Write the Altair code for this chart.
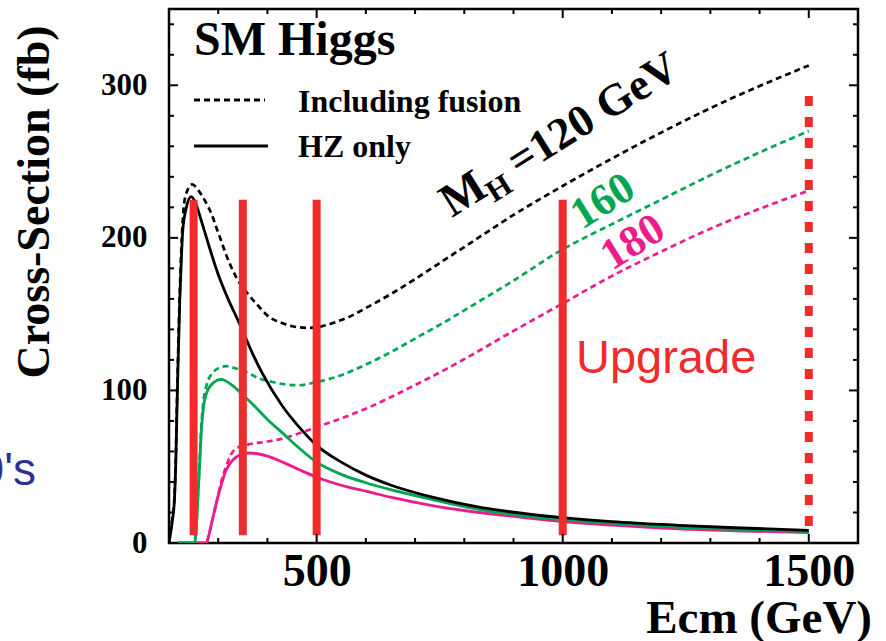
import altair as alt
import pandas as pd

# ---------------- data ----------------
# MH = 120 GeV, HZ only (solid black)
e120_hz = [200, 203, 207, 211, 214, 216, 218, 222, 225, 228, 234, 245, 255, 265, 280, 300, 320, 340, 353, 370,
           390, 430, 470, 500, 550, 600, 650, 735, 830, 870, 1000, 1100, 1236, 1350, 1500]
s120_hz = [0, 6, 15, 28, 55, 85, 112, 160, 185, 205, 218, 227, 222, 212, 196, 176, 160, 146, 136.5, 124,
           111, 90, 74, 64, 53, 44.5, 38, 30, 23.5, 21.5, 16.6, 14, 11.6, 10, 8.3]
# MH = 120 GeV, including fusion (dotted black)
e120_all = [200, 203, 207, 211, 214, 216, 218, 222, 225, 228, 234, 247, 260, 276, 286, 296, 306, 316, 337, 357,
            377, 404, 431, 460, 485, 510, 540, 566, 600, 650, 700, 769, 800, 900, 1000, 1100, 1200, 1300,
            1400, 1500]
s120_all = [0, 7, 17, 30, 58, 90, 118, 165, 192, 212, 228, 235, 231, 222.6, 216, 207, 198, 189, 174, 164.6,
            157, 148, 144, 141.5, 141, 142, 145, 148.2, 154, 163, 173, 187.5, 194, 215, 234, 252, 269, 285,
            299.5, 313]
# MH = 160 GeV
e160_hz = [220, 252, 255, 258, 262, 266, 270, 276, 290, 306, 330, 350, 370, 400, 431, 460, 500, 550, 600, 650,
           735, 830, 870, 1000, 1100, 1236, 1350, 1500]
s160_hz = [0, 0, 8, 25, 50, 75, 89, 98, 105, 107.3, 103, 97, 91, 81, 72, 63.5, 53, 45, 39.5, 35,
           28.5, 22, 20, 15.3, 13, 10.3, 9, 7.5]
e160_all = [220, 252, 255, 258, 262, 266, 270, 276, 290, 303, 316, 335, 350, 384, 410, 438, 465, 492, 520, 550,
            600, 650, 700, 769, 800, 900, 992, 1100, 1200, 1300, 1400, 1500]
s160_all = [0, 0, 8, 26, 52, 78, 93, 103, 112, 115, 115.9, 114.5, 113, 107.8, 105.5, 103.9, 103.4, 104.9, 107, 110,
            117, 125, 134, 146.5, 152.5, 172, 191, 209, 225, 241, 256, 270]
# MH = 180 GeV
e180_hz = [218, 276, 280, 288, 296, 306, 316, 326, 337, 350, 364, 380, 400, 431, 465, 499, 566, 600, 650, 735,
           830, 870, 1000, 1100, 1200, 1350, 1500]
s180_hz = [0, 0, 4, 15, 26, 38, 47.7, 53, 56.4, 58.5, 59, 58.5, 57, 53, 48, 43.3, 36.5, 34, 30, 24.5,
           20, 18.5, 14, 11.7, 9.8, 8, 6.8]
e180_all = [218, 276, 280, 288, 296, 306, 316, 326, 337, 360, 400, 431, 470, 500, 540, 600, 650, 700, 769,
            800, 900, 1000, 1100, 1200, 1300, 1400, 1500]
s180_all = [0, 0, 4, 15, 26, 40, 50, 58, 62, 64.5, 66.5, 68.5, 72.5, 76, 80.5, 88, 95.5, 103.5, 115,
            120.5, 139, 157, 175, 191, 206, 219, 231]

# red energy markers
bar_ecm = [250, 350, 500, 1000]
bar_lo = [5, 5, 5, 5]
bar_hi = [225, 225, 225, 225]
upgrade_ecm = [1500]
upgrade_lo = [8]
upgrade_hi = [293]

# axes
x_major = [500, 1000, 1500]
x_minor = [200, 300, 400, 600, 700, 800, 900, 1100, 1200, 1300, 1400, 1600]
y_major = [0, 100, 200, 300]
y_minor = [20, 40, 60, 80, 120, 140, 160, 180, 220, 240, 260, 280, 320, 340]

# ---------------- chart ----------------
W, H = 689, 534
SERIF = "Liberation Serif"
SANS = "Liberation Sans"
BLACK = "#000000"
GREEN = "#00a651"
PINK = "#ec1c8c"
RED = "#ee2c2c"
BLUE = "#2e3192"

xs = alt.Scale(domain=[200, 1600], nice=False, zero=False)
ys = alt.Scale(domain=[0, 350], nice=False, zero=False)
X = alt.X("ecm:Q", scale=xs,
          axis=alt.Axis(values=x_major, format="d", labelFont=SERIF, labelFontWeight="bold", labelFontSize=46,
                        labelColor="black", labelPadding=6, ticks=False, tickSize=0, domain=False,
                        grid=False, title=None, labelFlush=False))
Y = alt.Y("xs:Q", scale=ys,
          axis=alt.Axis(values=y_major, format="d", labelFont=SERIF, labelFontWeight="bold", labelFontSize=31,
                        labelColor="black", labelPadding=22, ticks=False, tickSize=0, domain=False,
                        grid=False, title=None))


def curve(e, s, color, dashed):
    df = pd.DataFrame({"ecm": e, "xs": s})
    kw = dict(color=color, strokeWidth=2.8, interpolate="monotone", clip=True)
    if dashed:
        kw["strokeDash"] = [6, 4]
        kw["strokeWidth"] = 2.7
    return alt.Chart(df).mark_line(**kw).encode(x=X, y=Y)


layers = [
    curve(e180_all, s180_all, PINK, True),
    curve(e180_hz, s180_hz, PINK, False),
    curve(e160_all, s160_all, GREEN, True),
    curve(e160_hz, s160_hz, GREEN, False),
    curve(e120_all, s120_all, BLACK, True),
    curve(e120_hz, s120_hz, BLACK, False),
]

bars = pd.DataFrame({"ecm": bar_ecm, "xs": bar_lo, "hi": bar_hi})
layers.append(alt.Chart(bars).mark_rule(color=RED, strokeWidth=8, strokeCap="butt").encode(
    x=X, y=alt.Y("hi:Q", scale=ys), y2="xs:Q"))
upg = pd.DataFrame({"ecm": upgrade_ecm, "xs": upgrade_lo, "hi": upgrade_hi})
layers.append(alt.Chart(upg).mark_rule(color=RED, strokeWidth=8, strokeCap="butt", strokeDash=[10, 11]).encode(
    x=X, y=alt.Y("hi:Q", scale=ys), y2="xs:Q"))


# inward ticks on all four sides
def xticks(vals, length):
    df = pd.DataFrame({"ecm": vals})
    b = alt.Chart(df).mark_rule(color="black", strokeWidth=2).encode(x=X, y=alt.value(H), y2=alt.value(H - length))
    t = alt.Chart(df).mark_rule(color="black", strokeWidth=2).encode(x=X, y=alt.value(0), y2=alt.value(length))
    return [b, t]


def yticks(vals, length):
    df = pd.DataFrame({"xs": vals})
    l = alt.Chart(df).mark_rule(color="black", strokeWidth=2).encode(y=Y, x=alt.value(0), x2=alt.value(length))
    r = alt.Chart(df).mark_rule(color="black", strokeWidth=2).encode(y=Y, x=alt.value(W), x2=alt.value(W - length))
    return [l, r]


layers += xticks(x_major, 9) + xticks(x_minor, 5) + yticks(y_major, 9) + yticks(y_minor, 5)


def label(text, x, y, size, color="black", font=SERIF, weight="bold", angle=0, align="left",
          baseline="alphabetic"):
    df = pd.DataFrame({"t": [text]})
    return alt.Chart(df).mark_text(font=font, fontWeight=weight, fontSize=size, color=color, angle=angle,
                                   align=align, baseline=baseline).encode(
        x=alt.value(x), y=alt.value(y), text="t:N")


# legend
layers.append(alt.Chart(pd.DataFrame({"a": [0]})).mark_rule(color="black", strokeWidth=3, strokeDash=[6, 4]).encode(
    x=alt.value(25), x2=alt.value(96), y=alt.value(91)))
layers.append(alt.Chart(pd.DataFrame({"a": [0]})).mark_rule(color="black", strokeWidth=3).encode(
    x=alt.value(25), x2=alt.value(99), y=alt.value(137)))

layers += [
    label("SM Higgs", 25, 46, 48),
    label("Including fusion", 129, 103, 32),
    label("HZ only", 129, 148, 32),
    label("M", 283, 209, 47, angle=328),
    label("H", 325, 194, 31, angle=328),
    label("=120 GeV", 350, 168, 45, angle=328),
    label("160", 413, 221, 44, color=GREEN, angle=328),
    label("180", 443, 262, 44, color=PINK, angle=328),
    label("Upgrade", 407, 364, 47, color=RED, font=SANS, weight="normal"),
    label("1990's", -133, 476, 46, color=BLUE, font=SANS, weight="normal", align="right"),
    label("Ecm (GeV)", 703, 624, 47, align="right"),
    label("Cross-Section (fb)", -134, 193, 46, angle=270, align="center", baseline="middle"),
]

chart = alt.layer(*layers).properties(
    width=W, height=H,
    padding={"left": 169, "top": 9, "right": 28, "bottom": 98},
    autosize=alt.AutoSizeParams(type="none"),
    background="white",
).configure_view(stroke="black", strokeWidth=2.5)

chart.save("out.html", embed_options={"renderer": "svg", "actions": False})
